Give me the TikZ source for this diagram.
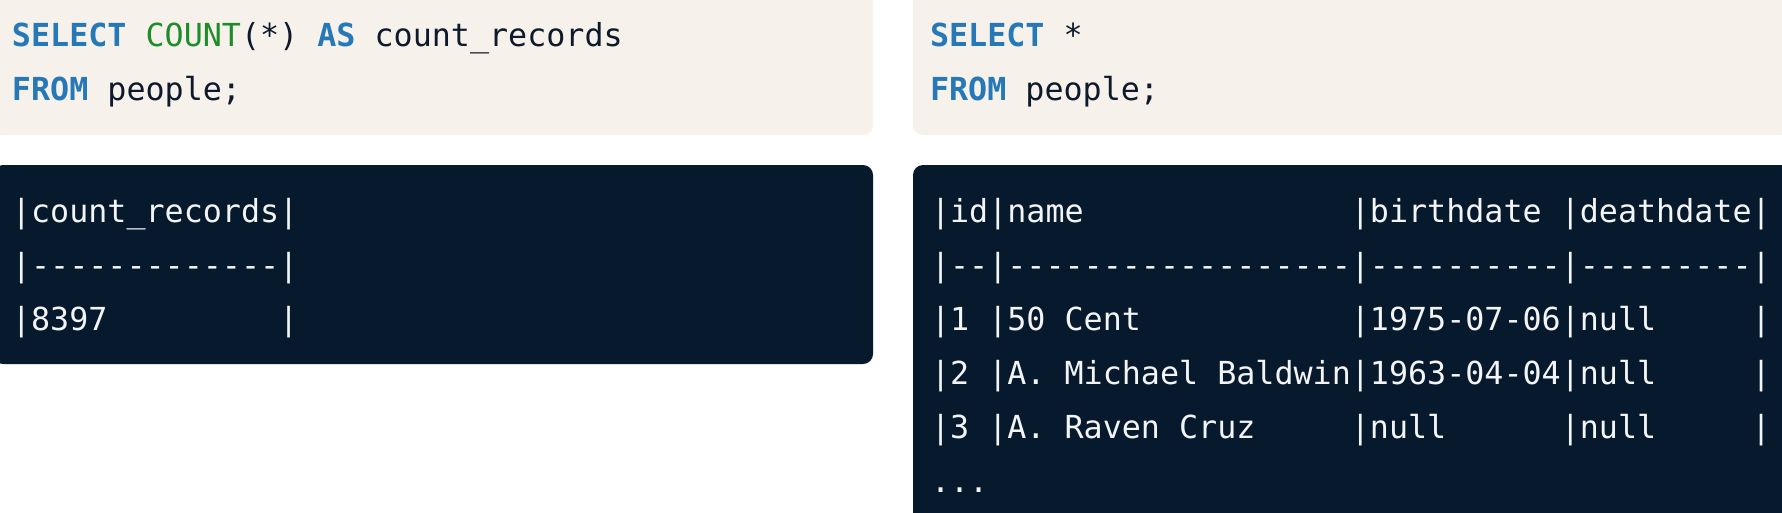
\documentclass[tikz,border=0pt]{standalone}
\usepackage{fontspec}
\setmonofont{DejaVu Sans Mono}
\definecolor{codebg}{HTML}{F6F2EB}
\definecolor{termbg}{HTML}{07192D}
\definecolor{kwblue}{HTML}{2679B6}
\definecolor{fngreen}{HTML}{1E8C28}
\definecolor{codetxt}{HTML}{0E1A2B}
\definecolor{termtxt}{HTML}{F2F4F6}
\tikzset{
  codebox/.style={fill=codebg, draw=none, rounded corners=10pt},
  termbox/.style={fill=termbg, draw=none, rounded corners=10pt},
  codeline/.style={anchor=base west, inner sep=0pt, outer sep=0pt, text=codetxt,
    font=\ttfamily\fontsize{31.7}{38}\selectfont\frenchspacing},
  termline/.style={anchor=base west, inner sep=0pt, outer sep=0pt, text=termtxt,
    font=\ttfamily\fontsize{31.7}{38}\selectfont\frenchspacing},
}
\newcommand{\kw}[1]{\textcolor{kwblue}{\bfseries #1}}
\newcommand{\fn}[1]{\textcolor{fngreen}{#1}}
\begin{document}
\begin{tikzpicture}[x=1pt,y=1pt]
\useasboundingbox (0,0) rectangle (1782,-512);
\clip (0,0) rectangle (1782,-512);
\fill[white] (0,0) rectangle (1782,-512);
% boxes
\path[codebox] (-7,20) rectangle (873,-135);
\path[termbox] (-7,-165) rectangle (873,-364);
\path[codebox] (913,20) rectangle (1810,-135);
\path[termbox] (913,-165) rectangle (1810,-560);
% left query
\node[codeline] (q1a) at (12,-46) {\kw{SELECT}~\fn{COUNT}(*)~\kw{AS}~count\_records};
\node[codeline] (q1b) at (12,-100) {\kw{FROM}~people;};
% left result
\node[termline] (r1a) at (12,-222) {|count\_records|};
\node[termline] (r1b) at (12,-276) {|-------------|};
\node[termline] (r1c) at (12,-330) {|8397~~~~~~~~~|};
% right query
\node[codeline] (q2a) at (930,-46) {\kw{SELECT}~*};
\node[codeline] (q2b) at (930,-100) {\kw{FROM}~people;};
% right result
\node[termline] (r2a) at (931,-222) {|id|name~~~~~~~~~~~~~~|birthdate~|deathdate|};
\node[termline] (r2b) at (931,-276) {|--|------------------|----------|---------|};
\node[termline] (r2c) at (931,-330) {|1~|50~Cent~~~~~~~~~~~|1975-07-06|null~~~~~|};
\node[termline] (r2d) at (931,-384) {|2~|A.~Michael~Baldwin|1963-04-04|null~~~~~|};
\node[termline] (r2e) at (931,-438) {|3~|A.~Raven~Cruz~~~~~|null~~~~~~|null~~~~~|};
\node[termline] (r2f) at (931,-492) {...};
\end{tikzpicture}
\end{document}
